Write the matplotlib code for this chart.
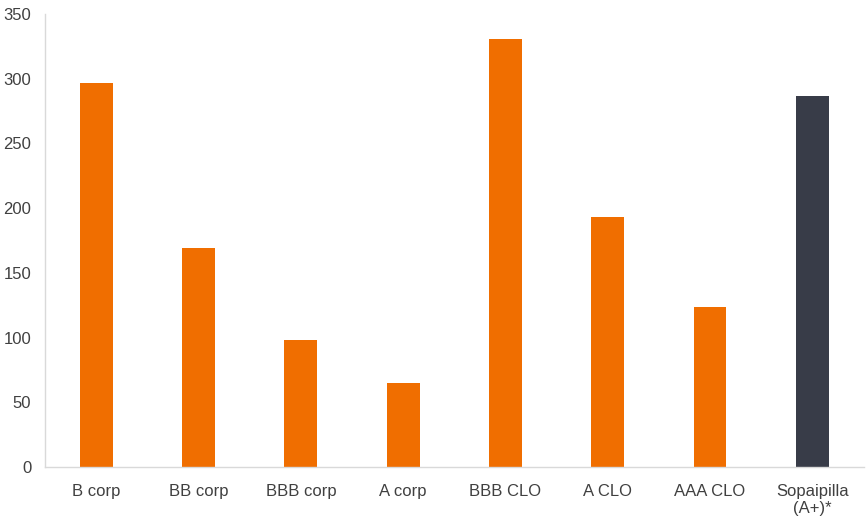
import matplotlib.pyplot as plt

categories = ['B corp', 'BB corp', 'BBB corp', 'A corp', 'BBB CLO', 'A CLO', 'AAA CLO', 'Sopaipilla\n(A+)*']
values = [297, 169, 98, 65, 331, 193, 124, 287]
colors = ['#F06E00'] * 7 + ['#383C48']

plt.rcParams['font.family'] = ['Liberation Sans', 'DejaVu Sans']

fig = plt.figure(figsize=(8.67, 5.28), dpi=100)
ax = fig.add_axes([0.052, 0.1155, 0.944, 0.858])

x = range(len(categories))
ax.bar(x, values, width=0.32, color=colors)
ax.set_xlim(-0.5, len(categories) - 0.5)
ax.set_ylim(0, 350)
ax.set_yticks(range(0, 351, 50))
ax.set_xticks(list(x))
ax.set_xticklabels(categories)

for s in ['top', 'right']:
    ax.spines[s].set_visible(False)
for s in ['left', 'bottom']:
    ax.spines[s].set_color('#D9D9D9')
    ax.spines[s].set_linewidth(1)
ax.tick_params(length=0, labelsize=12, colors='#404040')
ax.tick_params(axis='y', pad=10)
ax.tick_params(axis='x', pad=12)

fig.savefig('out.png', dpi=100)
